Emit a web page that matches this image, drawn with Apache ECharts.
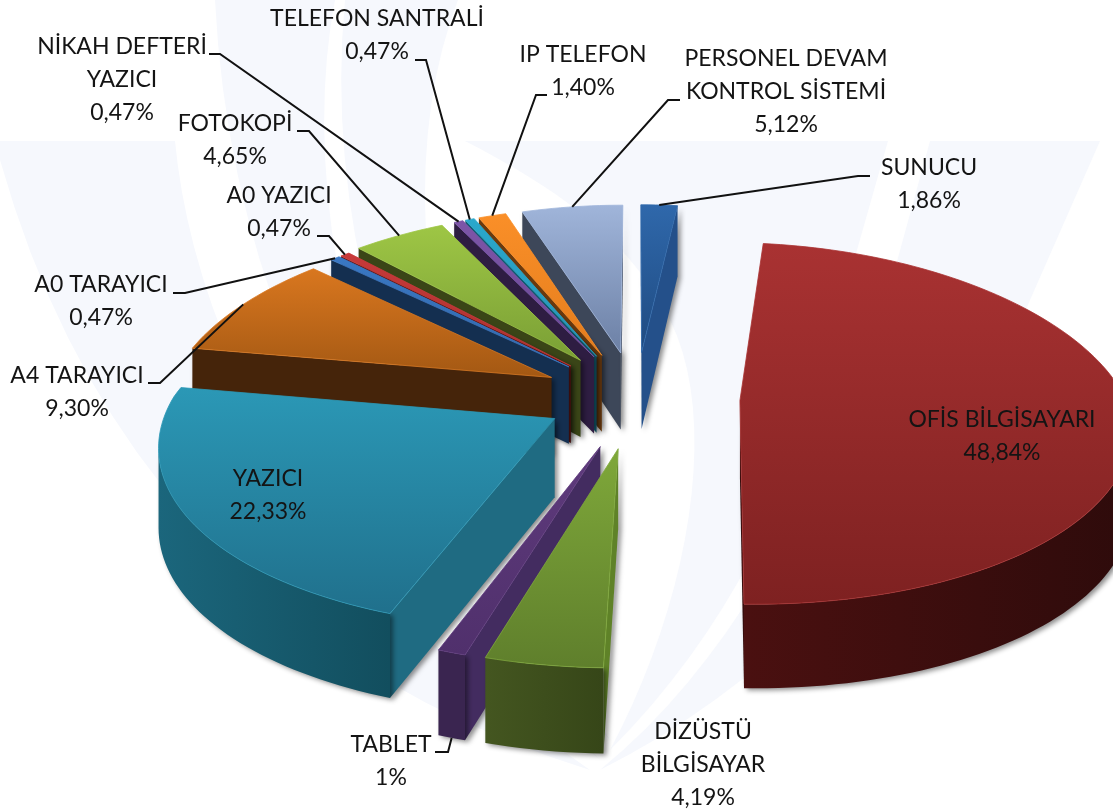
<!DOCTYPE html>
<html><head><meta charset="utf-8">
<style>html,body{margin:0;padding:0;background:#fff}#c{width:1113px;height:812px}</style>
<script src="https://cdn.jsdelivr.net/npm/echarts@6/dist/echarts.min.js"></script>
</head><body><div id="c"></div>
<script>
// ---- data ----
var categories = ['SUNUCU','OFİS BİLGİSAYARI','DİZÜSTÜ\nBİLGİSAYAR','TABLET','YAZICI','A4 TARAYICI','A0 TARAYICI','A0 YAZICI','FOTOKOPİ','NİKAH DEFTERİ\nYAZICI','TELEFON SANTRALİ','IP TELEFON','PERSONEL DEVAM\nKONTROL SİSTEMİ'];
var values = [1.86,48.84,4.19,1,22.33,9.30,0.47,0.47,4.65,0.47,0.47,1.40,5.12];
var valueLabels = ['1,86%','48,84%','4,19%','1%','22,33%','9,30%','0,47%','0,47%','4,65%','0,47%','0,47%','1,40%','5,12%'];

// ---- styles ----
var topFrom = ['#2f68ab','#a93232','#7fa83a','#5e3a7c','#2b98b6','#d9771f','#3a78c4','#c83a3a','#9ec645','#7d55a8','#2aa8cc','#fa8f28','#a0b5da'];
var topTo   = ['#1f4a80','#7e2121','#5f7f2c','#50306c','#20708c','#a35813','#3068aa','#a82f2f','#7a9f35','#6b4894','#2496b6','#e47d1d','#6c80a5'];
var rimWall = ['#24508a','#4a1010','#445620','#3a2550','#1b667c','#45240a','#142f50','#5a1515','#3a4517','#2e1d42','#125a70','#6b3a0d','#3d4759'];
var rimEnd  = ['#24508a','#2e0b0b','#364618','#3a2550','#124e5e','#45240a','#142f50','#5a1515','#3a4517','#2e1d42','#125a70','#6b3a0d','#3d4759'];
var sideWall= ['#24508a','#3a0d0d','#5f8228','#432c60','#1f6b82','#45240a','#142f50','#5a1515','#3a4517','#2e1d42','#125a70','#6b3a0d','#3d4759'];
var explode = [.26,.27,.285,.285,.24,.25,.25,.25,.26,.26,.26,.26,.26];
var labelPos = [[929,168],[1002,420],[703,732],[391,745],[268,479],[77,376],[101,285],[279,196],[235,124],[122,47],[377,19],[583,55],[786,59]];
var elbows = [[[870,176],[858,176]],null,null,[[435,752],[448,752]],null,[[148,383],[160,383]],[[173,293],[185,293]],[[317,236],[329,236]],[[297,131],[309,131]],[[209,54],[220,54]],[[415,60],[426,60]],[[547,95],[536,95]],[[680,100],[668,100]]];
var leaderDrop = [0,0,0,1,0,0,0,0,0,0,0,0,0];
var CX=636,CY=397,RX=385,KY=177,PY=.127,D0=78,D1=6;

// ---- geometry from the values ----
var total = values.reduce(function(a,b){return a+b;},0), acc=0;
var starts=[],ends=[],mids=[];
values.forEach(function(v,i){starts[i]=acc/total*360;acc+=v;ends[i]=acc/total*360;mids[i]=(starts[i]+ends[i])/2;});
function rad(d){return d*Math.PI/180;}
function proj(i,ang,r,z){
  var e=explode[i],m=rad(mids[i]),a=rad(ang);
  var u=e*Math.sin(m)+r*Math.sin(a), v=-(e*Math.cos(m)+r*Math.cos(a));
  var fx=1/(1-(v>0?.13:.17)*v), fy=1/(1-PY*v);
  return [CX+RX*u*fx, CY+KY*v*fy+z*(D0+D1*v)];
}
var order = values.map(function(_,i){return i;}).sort(function(a,b){return Math.cos(rad(mids[b]))-Math.cos(rad(mids[a]));});

var shadow={shadowBlur:5,shadowColor:'rgba(0,0,0,.45)',shadowOffsetX:3,shadowOffsetY:2};
function poly(pts,style){return {type:'polygon',shape:{points:pts},style:Object.assign({lineJoin:'round'},style)};}
function vgrad(a,b){return {type:'linear',x:0,y:0,x2:0,y2:1,colorStops:[{offset:0,color:a},{offset:1,color:b}]};}
function hgrad(a,b){return {type:'linear',x:0,y:0,x2:1,y2:0,colorStops:[{offset:0,color:a},{offset:1,color:b}]};}

function renderSlice(params,api){
  var i=api.value(0), a0=starts[i], a1=ends[i], n=Math.max(3,Math.ceil((a1-a0)/1.5)), kids=[];
  var apex=proj(i,a0,0,0), apexB=proj(i,a0,0,1), rim=[], rimB=[];
  for(var k=0;k<=n;k++){var a=a0+(a1-a0)*k/n;rim.push(proj(i,a,1,0));rimB.push(proj(i,a,1,1));}
  if(rim[0][0]<apex[0]) kids.push(poly([apex,rim[0],rimB[0],apexB],Object.assign({fill:sideWall[i]},shadow)));
  if(apex[0]<rim[n][0]) kids.push(poly([rim[n],apex,apexB,rimB[n]],Object.assign({fill:sideWall[i]},shadow)));
  var up=[],low=[];
  for(k=0;k<n;k++){ if(rim[k+1][0]<rim[k][0]){ if(!up.length){up.push(rim[k]);low.push(rimB[k]);} up.push(rim[k+1]);low.push(rimB[k+1]); } }
  if(up.length) kids.push(poly(up.concat(low.reverse()),Object.assign({fill:hgrad(rimWall[i],rimEnd[i])},shadow)));
  kids.push(poly([apex].concat(rim),{fill:vgrad(topFrom[i],topTo[i]),stroke:topFrom[i],lineWidth:.8}));
  return {type:'group',children:kids};
}
function renderLabel(params,api){
  var i=api.value(0), kids=[], p=labelPos[i];
  kids.push({type:'text',style:{text:categories[i]+'\n'+valueLabels[i],x:p[0],y:p[1]-16.5,fill:'#141414',font:'23px Lato, "Open Sans", sans-serif',align:'center',verticalAlign:'top',lineHeight:33}});
  if(elbows[i]){
    kids.push({type:'polyline',shape:{points:elbows[i].concat([proj(i,mids[i],1,leaderDrop[i])])},style:{fill:'none',stroke:'#111',lineWidth:2}});
  }
  return {type:'group',children:kids};
}

// faint watermark behind the chart
var bgShapes=[
 [[0,141],[175,141],['c',190,300,280,560,590,770],['c',300,680,90,480,0,160]],
 [[215,0],[335,0],['c',300,180,340,500,600,760],['c',360,560,230,300,215,0]],
 [[345,0],[458,0],['c',400,150,400,420,610,740],['c',420,540,320,260,345,0]],
 [[465,141],[888,141],[857,250],['c',820,420,760,600,610,750],['c',690,600,720,420,670,320],['c',630,240,560,190,465,141]],
 [[930,141],[1100,141],[1030,300],['c',960,480,800,670,600,770],['c',760,640,850,420,896,265]]
];
function flatten(s){
  var out=[];
  s.forEach(function(q){
    if(q[0]!=='c'){out.push(q);return;}
    var p=out[out.length-1];
    for(var t=.05;t<=1.001;t+=.05){var m=1-t;
      out.push([m*m*m*p[0]+3*m*m*t*q[1]+3*m*t*t*q[3]+t*t*t*q[5], m*m*m*p[1]+3*m*m*t*q[2]+3*m*t*t*q[4]+t*t*t*q[6]]);}
  });
  return out;
}
var chart=echarts.init(document.getElementById('c'),null,{renderer:'canvas'});
chart.setOption({
  backgroundColor:'#fff',animation:false,
  graphic:bgShapes.map(function(s){return {type:'polygon',z:-1,silent:true,shape:{points:flatten(s)},style:{fill:'#f6f8fd'}};}),
  series:[
    {type:'custom',coordinateSystem:'none',z:2,silent:true,renderItem:renderSlice,data:order.map(function(i){return [i,values[i]];})},
    {type:'custom',coordinateSystem:'none',z:3,silent:true,renderItem:renderLabel,data:values.map(function(v,i){return [i,v];})}
  ]
});
</script></body></html>
